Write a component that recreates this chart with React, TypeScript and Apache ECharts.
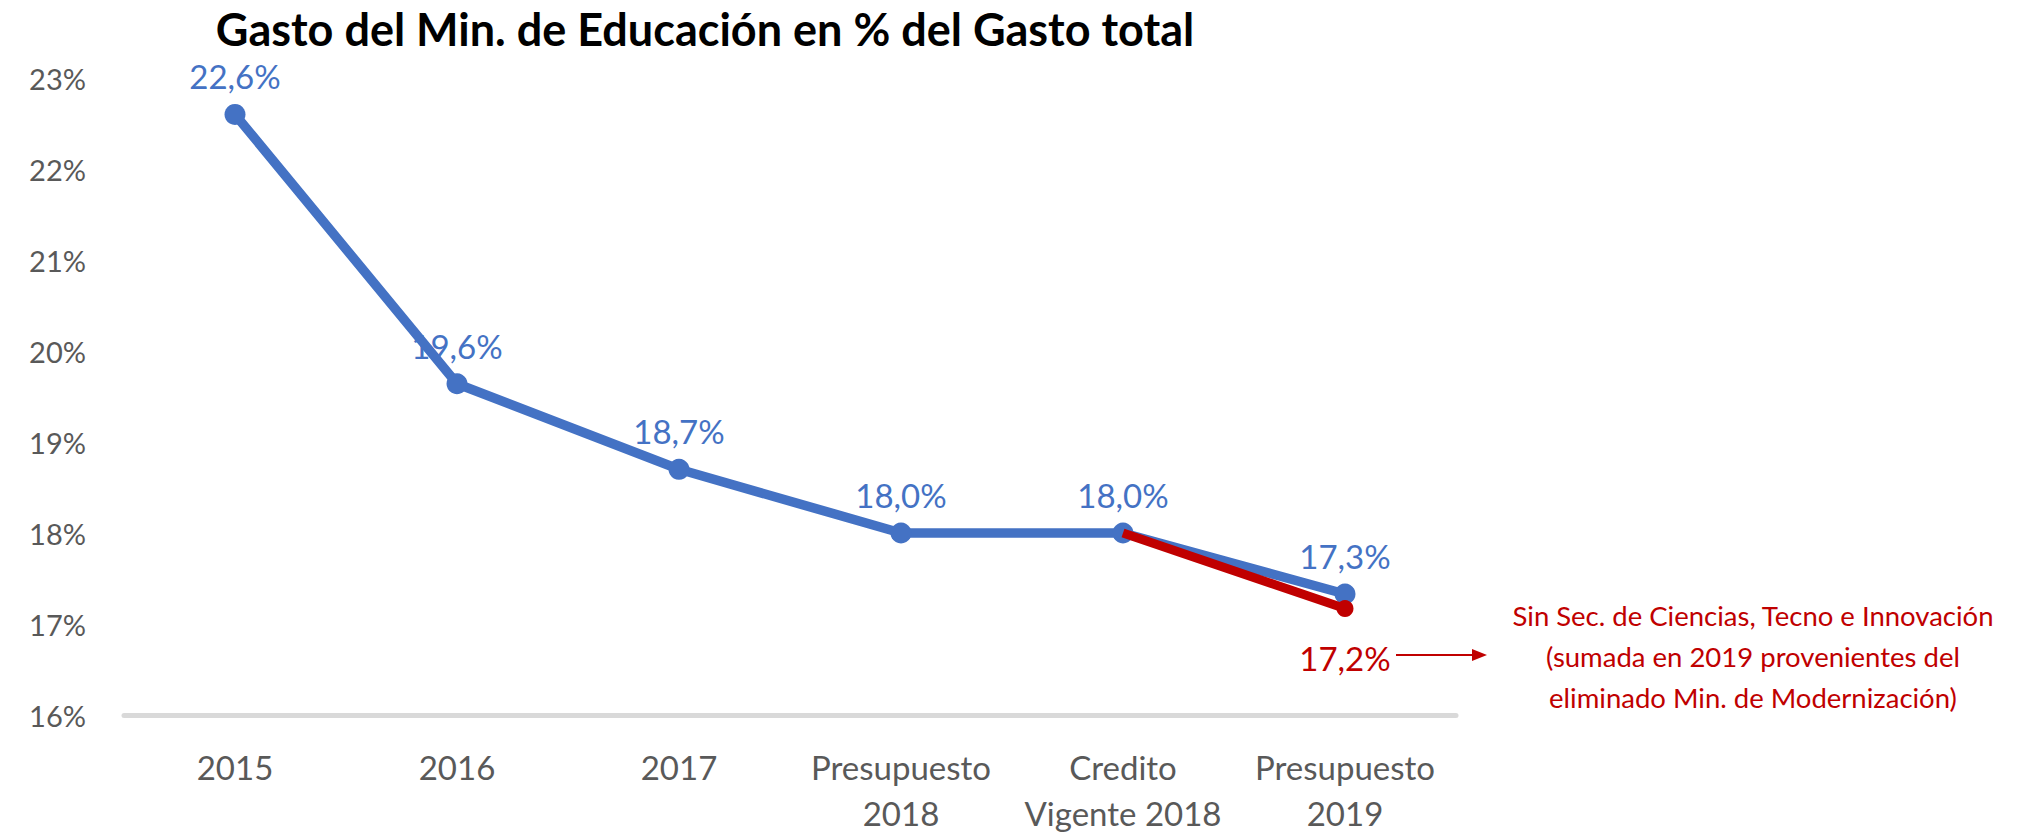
import React, { useEffect, useRef } from "react";
import * as echarts from "echarts";

const categories = ["2015", "2016", "2017", "Presupuesto\n2018", "Credito\nVigente 2018", "Presupuesto\n2019"];
const totalShare = [22.6, 19.64, 18.7, 18.0, 18.0, 17.33];
const withoutScience = [null, null, null, null, 18.0, 17.17];
const yTicks = { min: 16, max: 23, interval: 1 };
const titleText = "Gasto del Min. de Educación en % del Gasto total";
const noteText = "Sin Sec. de Ciencias, Tecno e Innovación\n(sumada en 2019 provenientes del\neliminado Min. de Modernización)";

const BLUE = "#4472C4";
const RED = "#C00000";
const FONT = "Lato, 'Open Sans', sans-serif";

const fmt = (v: number) => v.toFixed(1).replace(".", ",") + "%";

export default function App() {
  const ref = useRef<HTMLDivElement>(null);
  useEffect(() => {
    if (!ref.current) return;
    const chart = echarts.init(ref.current, null, { renderer: "svg" });
    chart.setOption({
      animation: false,
      backgroundColor: "#ffffff",
      textStyle: { fontFamily: FONT },
      title: {
        text: titleText,
        left: 700,
        top: 1,
        textAlign: "center",
        textStyle: { fontFamily: FONT, fontWeight: "bold", fontSize: 45, color: "#000000" },
      },
      grid: { left: 124, right: 587, top: 78, bottom: 119, containLabel: false },
      xAxis: {
        type: "category",
        data: categories,
        boundaryGap: true,
        axisLine: { show: true, lineStyle: { color: "#D9D9D9", width: 5 } },
        axisTick: { show: false },
        axisLabel: {
          color: "#595959",
          fontFamily: FONT,
          fontSize: 33,
          lineHeight: 46,
          margin: 29,
          interval: 0,
        },
        splitLine: { show: false },
      },
      yAxis: {
        type: "value",
        min: yTicks.min,
        max: yTicks.max,
        interval: yTicks.interval,
        axisLine: { show: false },
        axisTick: { show: false },
        splitLine: { show: false },
        axisLabel: {
          color: "#595959",
          fontFamily: FONT,
          fontSize: 29,
          margin: 38,
          formatter: (v: number) => v + "%",
        },
      },
      series: [
        {
          type: "line",
          data: totalShare,
          lineStyle: { color: BLUE, width: 9.5 },
          itemStyle: { color: BLUE },
          symbol: "circle",
          symbolSize: 21,
          z: 2,
          label: {
            show: true,
            position: "top",
            distance: 11,
            color: BLUE,
            fontFamily: FONT,
            fontSize: 33,
            formatter: (p: any) => fmt(p.value),
          },
        },
        {
          type: "line",
          data: withoutScience,
          connectNulls: false,
          lineStyle: { color: RED, width: 9 },
          itemStyle: { color: RED },
          symbol: "circle",
          symbolSize: (v: any, p: any) => (p.dataIndex === withoutScience.length - 1 ? 17 : 0),
          z: 3,
          label: {
            show: true,
            position: "bottom",
            distance: 24,
            color: RED,
            fontFamily: FONT,
            fontSize: 33,
            formatter: (p: any) => (p.dataIndex === withoutScience.length - 1 ? fmt(p.value) : ""),
          },
        },
      ],
      graphic: [
        {
          type: "line",
          shape: { x1: 1396, y1: 655, x2: 1474, y2: 655 },
          style: { stroke: RED, lineWidth: 2 },
        },
        {
          type: "polygon",
          shape: { points: [[1472, 649], [1487, 655], [1472, 661]] },
          style: { fill: RED },
        },
        {
          type: "text",
          x: 1753,
          y: 656,
          style: {
            text: noteText,
            fill: RED,
            fontFamily: FONT,
            fontSize: 27.5,
            lineHeight: 41,
            align: "center",
            verticalAlign: "middle",
          },
        },
      ],
    });
    return () => chart.dispose();
  }, []);
  return <div ref={ref} style={{ position: "absolute", left: 0, top: 0, width: 2043, height: 836 }} />;
}
